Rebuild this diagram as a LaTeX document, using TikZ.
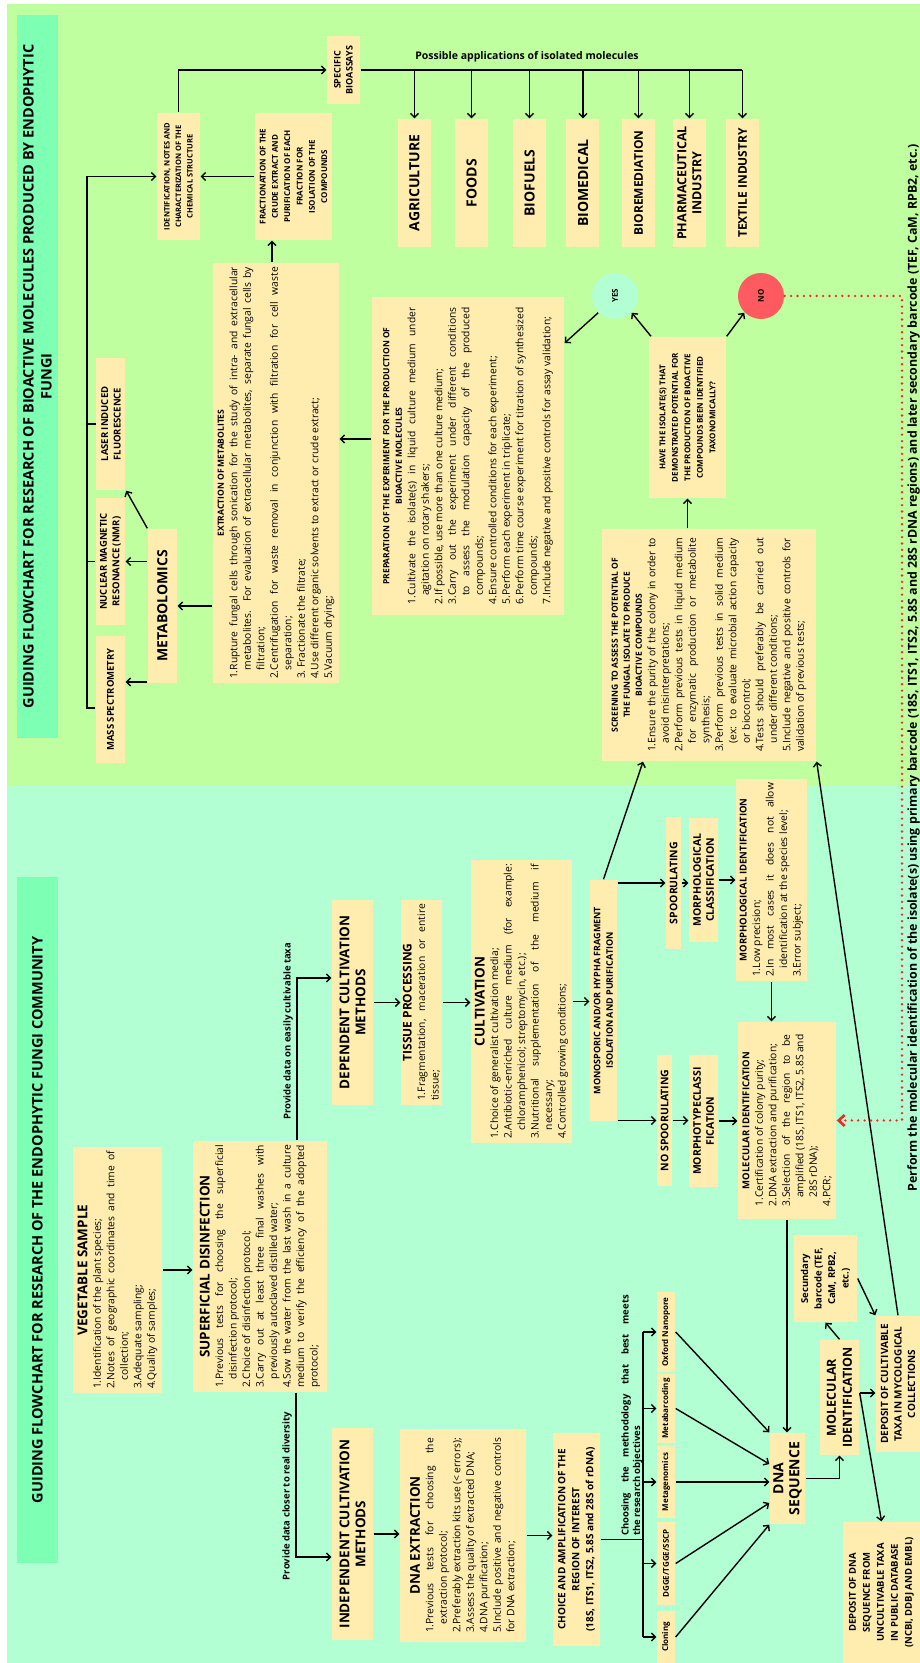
\documentclass[tikz,border=0pt]{standalone}
\usepackage{fontspec}
\setmainfont{Open Sans}
\usetikzlibrary{arrows.meta}
\definecolor{bggreen}{HTML}{BFFF9F}
\definecolor{bgmint}{HTML}{B2FFD4}
\definecolor{titlegreen}{HTML}{7DFFB4}
\definecolor{cream}{HTML}{FFEDB0}
\definecolor{nored}{HTML}{FF5A5F}
\definecolor{dotred}{HTML}{FF2424}
\hyphenpenalty=10000
\exhyphenpenalty=10000
\newcommand{\fs}[2]{\fontsize{#1}{#2}\selectfont}
\newcommand{\hd}[3]{\begingroup\centering\fs{#1}{#2}\bfseries #3\par\endgroup}
\newcommand{\itm}[2]{\par\noindent\hangindent=0.85em\hangafter=1\makebox[0.85em][l]{#1.}#2}

\begin{document}
\begin{tikzpicture}[x=1pt,y=1pt,rotate=90,transform shape,line width=1.4pt]
	\tikzstyle{every node} = [align=center]
	\tikzstyle{box} = [fill=cream, inner sep=1pt, font=\bfseries]
	\tikzstyle{listbox} = [fill=cream, inner xsep=4pt, inner ysep=2pt, align=justify, font=\fs{10.3}{13.5}]
	\tikzstyle{titlebox} = [fill=titlegreen, inner sep=0pt, font=\fs{14.5}{18}\bfseries]
	\tikzstyle{appbox} = [box, minimum width=128pt, minimum height=33pt]
	\tikzstyle{arr} = [-{Straight Barb[length=4pt,width=8pt]}]
	\tikzstyle{noline} = [draw=dotred, line width=2.6pt, dash pattern=on 0pt off 6.4pt, line cap=round, -{Straight Barb[length=6pt,width=11pt]}]
	
	\useasboundingbox (0,0) rectangle (1663,920);
	\fill[bgmint] (0,0) rectangle (877,913);
	\fill[bggreen] (877,0) rectangle (1659,913);
	
	\node[titlebox, minimum width=723pt, minimum height=41pt] (toptitle) at (1286.5,882.5) {GUIDING FLOWCHART FOR RESEARCH OF BIOACTIVE MOLECULES PRODUCED BY ENDOPHYTIC\\FUNGI};
	\node[titlebox, minimum width=686pt, minimum height=41pt] (bottitle) at (443,882.5) {GUIDING FLOWCHART FOR RESEARCH OF THE ENDOPHYTIC FUNGI COMMUNITY};
	
	\node[listbox, text width=238pt, minimum height=89pt] (vegsample) at (393,802.5) {\hd{13.5}{17}{VEGETABLE SAMPLE}\itm{1}{Identification of the plant species;}\itm{2}{Notes of geographic coordinates and time of collection;}\itm{3}{Adequate sampling;}\itm{4}{Quality of samples;}};
	\node[listbox, text width=243pt, minimum height=134pt] (disinf) at (396.5,660) {\hd{13.5}{17}{SUPERFICIAL DISINFECTION}\itm{1}{Previous tests for choosing the superficial disinfection protocol;}\itm{2}{Choice of disinfection protocol;}\itm{3}{Carry out at least three final washes with previously autoclaved distilled water;}\itm{4}{Sow the water from the last wash in a culture medium to verify the efficiency of the adopted protocol;}};
	\node[box, minimum width=212pt, minimum height=41pt, font=\fs{13.5}{16}\bfseries] (indep) at (129,567.5) {INDEPENDENT CULTIVATION\\METHODS};
	\node[listbox, text width=195pt, inner xsep=9pt, minimum height=126pt] (dnaext) at (127.5,457) {\hd{13.5}{17}{DNA EXTRACTION}\itm{1}{Previous tests for choosing the extraction protocol;}\itm{2}{Preferably extraction kits use (< errors);}\itm{3}{Assess the quality of extracted DNA;}\itm{4}{DNA purification;}\itm{5}{Include positive and negative controls for DNA extraction;}};
	\node[box, minimum width=213pt, minimum height=47pt, font=\fs{10}{14}\bfseries] (choice) at (123.5,343.5) {CHOICE AND AMPLIFICATION OF THE\\REGION OF INTEREST\\(18S, ITS1, ITS2, 5.8S and 28S of rDNA)};
	
	\node[box, minimum width=52pt, minimum height=18pt, font=\fs{8}{10}\bfseries] (cloning) at (26,254) {Cloning};
	\node[box, minimum width=83pt, minimum height=18pt, font=\fs{8}{10}\bfseries] (dgge) at (99.5,254) {DGGE/TGGE/SSCP};
	\node[box, minimum width=72pt, minimum height=18pt, font=\fs{8}{10}\bfseries] (metagen) at (181,254) {Metagenomics};
	\node[box, minimum width=69pt, minimum height=18pt, font=\fs{8}{10}\bfseries] (metabar) at (254.5,254) {Metabarcoding};
	\node[box, minimum width=80pt, minimum height=18pt, font=\fs{8}{10}\bfseries] (nanopore) at (331,254) {Oxford Nanopore};
	\node[font=\fs{9.5}{11.5}\bfseries, text width=241pt, align=justify, inner sep=0pt] (choosing) at (247.5,288) {Choosing the methodology that best meets\linebreak the research objectives};
	
	\node[box, minimum width=91pt, minimum height=35pt, font=\fs{14}{16}\bfseries] (dnaseq) at (184.5,132.5) {DNA\\SEQUENCE};
	\node[box, minimum width=115pt, minimum height=39pt, font=\fs{12.5}{16}\bfseries] (molident) at (265.5,80.5) {MOLECULAR\\IDENTIFICATION};
	\node[box, minimum width=87pt, minimum height=63pt, font=\fs{9.5}{13.5}\bfseries] (secbarcode) at (384.5,94.5) {Secundary\\barcode (TEF,\\CaM, RPB2,\\etc.)};
	\node[box, minimum width=136pt, minimum height=44pt, font=\fs{10}{13.5}\bfseries] (depcult) at (279,22) {DEPOSIT OF CULTIVABLE\\TAXA IN MYCOLOGICAL\\COLLECTIONS};
	\node[box, minimum width=141pt, minimum height=77pt, font=\fs{9.5}{14}\bfseries] (depdna) at (70.5,38.5) {DEPOSIT OF DNA\\SEQUENCE FROM\\UNCULTIVABLE TAXA\\IN PUBLIC DATABASE\\(NCBI, DDBJ AND EMBL)};
	
	\node[box, minimum width=205pt, minimum height=41pt, font=\fs{13.5}{16}\bfseries] (depend) at (660.5,567.5) {DEPENDENT CULTIVATION\\METHODS};
	\node[listbox, text width=197pt, minimum height=41pt] (tissue) at (660.5,498.5) {\hd{12}{14}{TISSUE PROCESSING}\itm{1}{Fragmentation, maceration or entire tissue;}};
	\node[listbox, text width=275pt, minimum height=101pt] (cultiv) at (661.5,398.5) {\hd{13.5}{17}{CULTIVATION}\itm{1}{Choice of generalist cultivation media;}\itm{2}{Antibiotic-enriched culture medium (for example: chloramphenicol; streptomycin, etc.);}\itm{3}{Nutritional supplementation of the medium if necessary;}\itm{4}{Controlled growing conditions;}};
	\node[box, minimum width=241pt, minimum height=27pt, font=\fs{9}{12.5}\bfseries] (monospor) at (662.5,316.5) {MONOSPORIC AND/OR HYPHA FRAGMENT\\ISOLATION AND PURIFICATION};
	\node[box, minimum width=132pt, minimum height=15pt, font=\fs{10.5}{12}\bfseries] (spor) at (780,246.5) {SPOORULATING};
	\node[box, minimum width=124pt, minimum height=29pt, font=\fs{10.5}{13}\bfseries] (morphclass) at (783,216.5) {MORPHOLOGICAL\\CLASSIFICATION};
	\node[listbox, text width=194pt, minimum height=71pt] (morphid) at (783,148.5) {\hd{9.5}{12.5}{MORPHOLOGICAL IDENTIFICATION}\itm{1}{Low precision;}\itm{2}{In most cases it does not allow identification at the species level;}\itm{3}{Error subject;}};
	\node[box, minimum width=131pt, minimum height=15pt, font=\fs{10.5}{12}\bfseries] (nospor) at (542.5,255.5) {NO SPOORULATING};
	\node[box, minimum width=132pt, minimum height=29pt, font=\fs{10.5}{13}\bfseries] (morphotype) at (542,216.5) {MORPHOTYPECLASSI\\FICATION};
	\node[listbox, text width=172pt, inner xsep=12.5pt, minimum height=98pt] (molidbox) at (542.5,133) {\hd{9.5}{12.5}{MOLECULAR IDENTIFICATION}\itm{1}{Certification of colony purity;}\itm{2}{DNA extraction and purification;}\itm{3}{Selection of the region to be amplified (18S, ITS1, ITS2, 5.8S and 28S rDNA);}\itm{4}{PCR;}};
	
	\node[listbox, text width=214pt, inner xsep=9pt, minimum height=214pt] (screening) at (1018,211) {\hd{8.5}{12}{SCREENING TO ASSESS THE POTENTIAL OF\par THE FUNGAL ISOLATE TO PRODUCE\par BIOACTIVE COMPOUNDS}\itm{1}{Ensure the purity of the colony in order to avoid misinterpretations;}\itm{2}{Perform previous tests in liquid medium for enzymatic production or metabolite synthesis;}\itm{3}{Perform previous tests in solid medium (ex: to evaluate microbial action capacity\linebreak or biocontrol;}\itm{4}{Tests should preferably be carried out under different conditions;}\itm{5}{Include negative and positive controls for validation of previous tests;}};
	\node[box, minimum width=161pt, minimum height=77pt, font=\fs{8}{12.5}\bfseries] (isolateq) at (1245.5,232.5) {HAVE THE ISOLATE(S) THAT\\DEMONSTRATED POTENTIAL FOR\\THE PRODUCTION OF BIOACTIVE\\COMPOUNDS BEEN IDENTIFIED\\TAXONOMICALLY?};
	\node[circle, fill=bgmint, minimum size=46pt, inner sep=0pt, font=\fs{8}{10}\bfseries] (yes) at (1367,305) {YES};
	\node[circle, fill=nored, minimum size=46pt, inner sep=0pt, font=\fs{8}{10}\bfseries] (no) at (1367,159) {NO};
	\node[listbox, text width=297pt, inner xsep=10.5pt, minimum height=192pt] (prepexp) at (1207,452) {\hd{8.5}{12.5}{PREPARATION OF THE EXPERIMENT FOR THE PRODUCTION OF\par BIOACTIVE MOLECULES}\itm{1}{Cultivate the isolate(s) in liquid culture medium under agitation on rotary shakers;}\itm{2}{If possible, use more than one culture medium;}\itm{3}{Carry out the experiment under different conditions to assess the modulation capacity of the produced\linebreak compounds;}\itm{4}{Ensure controlled conditions for each experiment;}\itm{5}{Perform each experiment in triplicate;}\itm{6}{Perform time course experiment for titration of synthesized compounds;}\itm{7}{Include negative and positive controls for assay validation;}};
	\node[listbox, text width=412pt, minimum height=126pt] (extract) at (1190,644) {\hd{8.5}{12.5}{EXTRACTION OF METABOLITES}\itm{1}{Rupture fungal cells through sonication for the study of intra- and extracellular metabolites. For evaluation of extracellular metabolites, separate fungal cells by filtration;}\itm{2}{Centrifugation for waste removal in conjunction with filtration for cell waste separation;}\itm{3}{ Fractionate the filtrate;}\itm{4}{Use different organic solvents to extract or crude extract;}\itm{5}{Vacuum drying;}};
	\node[box, minimum width=154pt, minimum height=29pt, font=\fs{14}{16}\bfseries] (metabolomics) at (1057,757.5) {METABOLOMICS};
	\node[box, minimum width=127pt, minimum height=29pt, font=\fs{9.5}{12}\bfseries] (massspec) at (963.5,809.5) {MASS SPECTROMETRY};
	\node[box, minimum width=127pt, minimum height=29pt, font=\fs{9.5}{12.5}\bfseries] (nmr) at (1101.5,809.5) {NUCLEAR MAGNETIC\\RESONANCE (NMR)};
	\node[box, minimum width=132pt, minimum height=29pt, font=\fs{9.5}{12.5}\bfseries] (laser) at (1239,809) {LASER INDUCED\\FLUORESCENCE};
	\node[box, minimum width=127pt, minimum height=43pt, font=\fs{7.5}{11.5}\bfseries] (chemid) at (1486.5,741.5) {IDENTIFICATION, NOTES AND\\CHARACTERIZATION OF THE\\CHEMICAL STRUCTURE};
	\node[box, minimum width=127pt, minimum height=77pt, font=\fs{8}{12.3}\bfseries] (fraction) at (1486.5,626.5) {FRACTIONATION OF THE\\CRUDE EXTRACT AND\\PURIFICATION OF EACH\\FRACTION FOR\\ISOLATION OF THE\\COMPOUNDS};
	\node[box, minimum width=68pt, minimum height=33pt, font=\fs{9}{12}\bfseries] (bioassays) at (1593,576.5) {SPECIFIC\\BIOASSAYS};
	
	\node[appbox, font=\fs{14}{16}\bfseries] (agriculture) at (1480,505.5) {AGRICULTURE};
	\node[appbox, font=\fs{14}{16}\bfseries] (foods) at (1480,448.5) {FOODS};
	\node[appbox, font=\fs{14}{16}\bfseries] (biofuels) at (1480,390.5) {BIOFUELS};
	\node[appbox, font=\fs{14}{16}\bfseries] (biomedical) at (1480,337) {BIOMEDICAL};
	\node[appbox, font=\fs{12}{14}\bfseries] (bioremed) at (1480,281.5) {BIOREMEDIATION};
	\node[appbox, font=\fs{12.5}{15}\bfseries] (pharma) at (1480,230.5) {PHARMACEUTICAL\\INDUSTRY};
	\node[appbox, font=\fs{12}{14}\bfseries] (textile) at (1480,177.5) {TEXTILE INDUSTRY};
	\node[rotate=-90, font=\fs{10.5}{12}\bfseries] (applabel) at (1606,393) {Possible applications of isolated molecules};
	
	\draw[arr] (vegsample.south) -- (vegsample.south |- disinf.north);
	\draw[arr] (disinf.west |- 0,624) -| (indep.north -| 106,0) node[pos=0.315, above, font=\fs{9.5}{11}\bfseries] (realdiv) {Provide data closer to real diversity};
	\draw[arr] (disinf.east |- 0,623) -| (depend.north -| 685,0) node[pos=0.336, above, font=\fs{9.5}{11}\bfseries] (cultivable) {Provide data on easily cultivable taxa};
	\draw[arr] (indep.south) -- (indep.south |- dnaext.north);
	\draw[arr] (dnaext.south) -- (dnaext.south |- choice.north);
	\coordinate (fan) at (0,277);
	\draw (choice.south) -- (choice.south |- fan);
	\draw (cloning.north |- fan) -- (nanopore.north |- fan);
	\foreach \m in {cloning,dgge,metagen,metabar,nanopore}
		\draw[arr] (\m.north |- fan) -- (\m.north);
	\draw[arr] (cloning.south) -- (dnaseq.north west);
	\draw[arr] (dgge.south) -- (dnaseq.north -| 160,0);
	\draw[arr] (metagen.south) -- (metagen.south |- dnaseq.north);
	\draw[arr] (metabar.south) -- (dnaseq.north -| 199,0);
	\draw[arr] (nanopore.south) -- (dnaseq.north east);
	\draw[arr] (molidbox.west) -- (molidbox.west -| dnaseq.east);
	\draw[arr] (dnaseq.south) |- (molident.west);
	\draw[arr] (molident.east) -- (secbarcode.west);
	\draw[arr] (secbarcode.south) -- (depcult.north east);
	\draw[arr] (molident.south -| 270,0) -- (depcult.north -| 270,0);
	\draw[arr] (molident.south -| 270,0) -- (depdna.east);
	\draw[arr] (depcult.east) -- (screening.south west);
	
	\draw[arr] (depend.south) -- (depend.south |- tissue.north);
	\draw[arr] (tissue.south) -- (tissue.south |- cultiv.north);
	\draw[arr] (cultiv.south) -- (cultiv.south |- monospor.north);
	\draw[arr] (monospor.south -| spor.north) -- (spor.north);
	\draw[arr] (spor.south) -- (spor.south |- morphclass.north);
	\draw[arr] (morphclass.south) -- (morphid.north);
	\draw[arr] (monospor.south -| nospor.north) -- (nospor.north);
	\draw[arr] (nospor.south) -- (nospor.south |- morphotype.north);
	\draw[arr] (morphotype.south) -- (morphotype.south |- molidbox.north);
	\draw[arr] (morphid.west) -- (morphid.west -| molidbox.east);
	\draw[arr] (monospor.east) -- (screening.north west |- 0,277);
	
	\draw[arr] (isolateq.west -| screening.east) -- (isolateq.west);
	\draw[arr] (isolateq.north east |- 0,269) -- (yes.225);
	\draw[arr] (isolateq.south east) -- (no.135);
	\draw[arr] (yes.135) -- (prepexp.south -| 1320,0);
	\draw[arr] (prepexp.north -| 1224,0) -- (extract.south -| 1224,0);
	\draw[arr] (extract.east |- 0,648) -- (fraction.west |- 0,648);
	\draw[arr] (fraction.north) -- (chemid.south);
	\draw[arr] (extract.north -| metabolomics.south) -- (metabolomics.south);
	\draw[arr] (metabolomics.north west -| 981,0) -- (massspec.south -| 981,0);
	\draw[arr] (metabolomics.north -| nmr.south) -- (nmr.south);
	\draw[arr] (metabolomics.north east) -- (laser.south west);
	\coordinate (spine) at (0,833);
	\draw (massspec.north -| 955,0) -- (spine -| 955,0) -- (spine -| chemid.north);
	\draw (nmr.north) -- (nmr.north |- spine);
	\draw (laser.north) -- (laser.north |- spine);
	\draw[arr] (spine -| chemid.north) -- (chemid.north);
	\draw[arr] (chemid.east) -| (bioassays.north);
	\draw (bioassays.south) -- (bioassays.south |- textile.east);
	\foreach \a in {agriculture,foods,biofuels,biomedical,bioremed,pharma,textile}
		\draw[arr] (bioassays.south |- \a.east) -- (\a.east);
	
	\draw[noline] (no.south) |- (molidbox.south |- 0,18) -- (molidbox.south);
	\node[font=\fs{12.4}{14}\bfseries, anchor=base, inner sep=0pt] (barcodenote) at (995,3) {Perform the molecular identification of the isolate(s) using primary barcode (18S, ITS1, ITS2, 5.8S and 28S rDNA regions) and later secondary barcode (TEF, CaM, RPB2, etc.)};
\end{tikzpicture}
\end{document}
